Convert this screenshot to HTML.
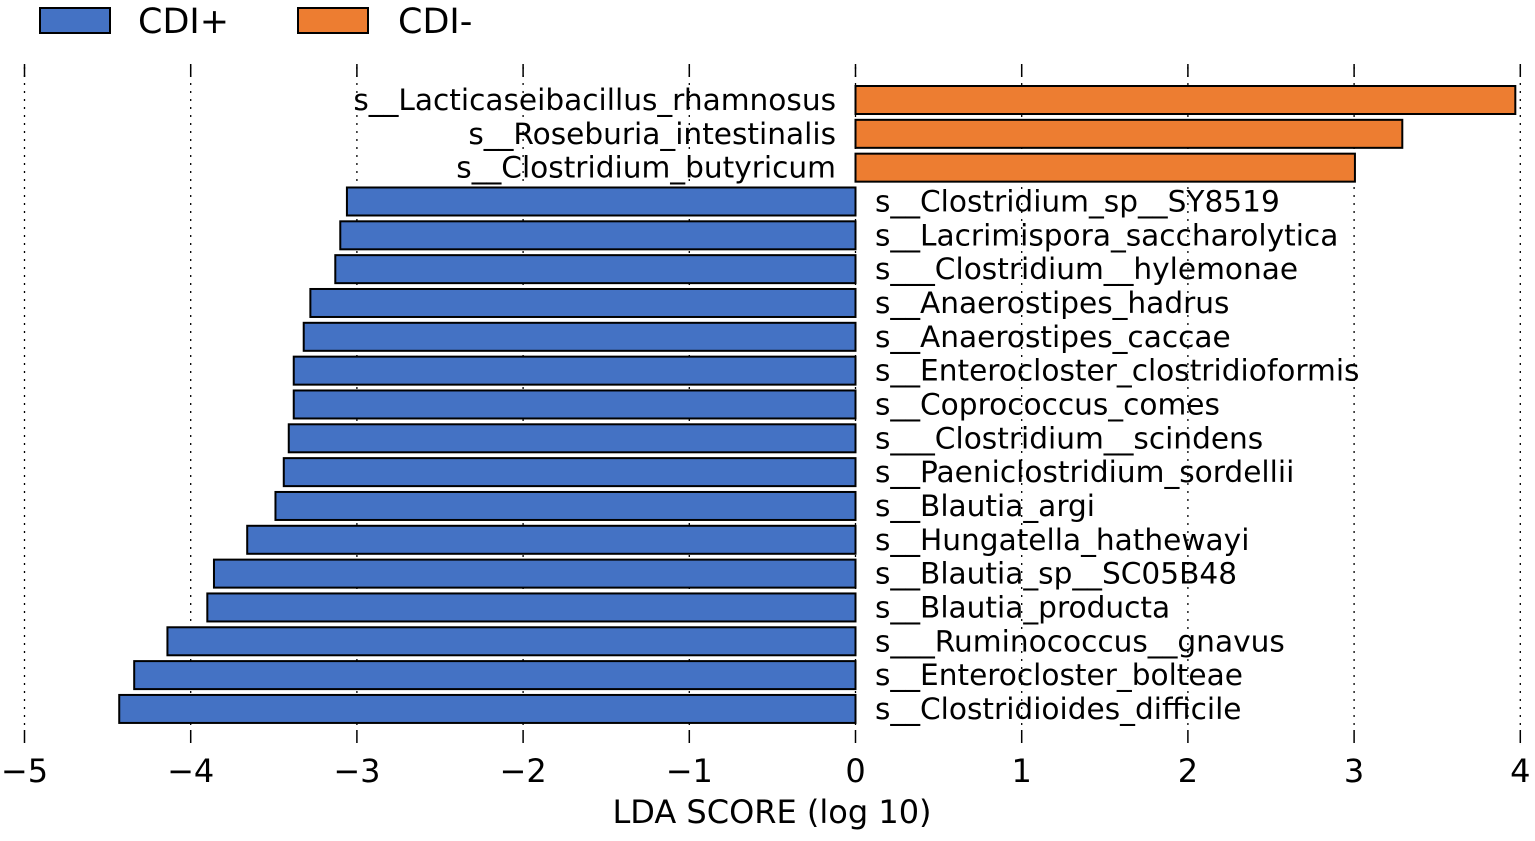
<!DOCTYPE html>
<html><head><meta charset="utf-8"><style>
body{margin:0;background:#fff}
svg text{font-family:"DejaVu Sans","Liberation Sans",sans-serif;fill:#000}
</style></head><body>
<svg id="c" width="1535" height="836" xmlns="http://www.w3.org/2000/svg">
<g>
<rect x="40" y="8" width="70" height="25" fill="#4472c4" stroke="#000" stroke-width="2"/>
<text x="138" y="33" font-size="35">CDI+</text>
<rect x="298" y="8" width="70" height="25" fill="#ed7d31" stroke="#000" stroke-width="2"/>
<text x="398" y="33" font-size="35">CDI-</text>
</g>
<g id="grid"></g><g id="bars"></g><g id="axis"></g>
<text x="772" y="823" font-size="32" text-anchor="middle">LDA SCORE (log 10)</text>
</svg>
<script>
const species=["s__Lacticaseibacillus_rhamnosus","s__Roseburia_intestinalis","s__Clostridium_butyricum","s__Clostridium_sp__SY8519","s__Lacrimispora_saccharolytica","s___Clostridium__hylemonae","s__Anaerostipes_hadrus","s__Anaerostipes_caccae","s__Enterocloster_clostridioformis","s__Coprococcus_comes","s___Clostridium__scindens","s__Paeniclostridium_sordellii","s__Blautia_argi","s__Hungatella_hathewayi","s__Blautia_sp__SC05B48","s__Blautia_producta","s___Ruminococcus__gnavus","s__Enterocloster_bolteae","s__Clostridioides_difficile"];
const ldaScores=[3.97,3.29,3.005,-3.06,-3.10,-3.13,-3.28,-3.32,-3.38,-3.38,-3.41,-3.44,-3.49,-3.66,-3.86,-3.90,-4.14,-4.34,-4.43];
const tickValues=[-5,-4,-3,-2,-1,0,1,2,3,4];
const tickLabels=["\u22125","\u22124","\u22123","\u22122","\u22121","0","1","2","3","4"];
const NS="http://www.w3.org/2000/svg";
const x=v=>855.5+v*166.2;
const y=i=>100+i*33.83;
function mk(t,a,p){const e=document.createElementNS(NS,t);for(const k in a)e.setAttribute(k,a[k]);p.appendChild(e);return e;}
const G=document.getElementById('grid'),B=document.getElementById('bars'),A=document.getElementById('axis');
tickValues.forEach((v,i)=>{
 const g=mk('line',{x1:x(v),x2:x(v),y1:67,y2:730,stroke:'#000','stroke-width':1.3,'stroke-dasharray':'2,6'},G);
 
 
 const t1=mk('line',{x1:x(v),x2:x(v),y1:64,y2:77,stroke:'#000','stroke-width':1.5},A);
 
 
 const t2=mk('line',{x1:x(v),x2:x(v),y1:730,y2:743,stroke:'#000','stroke-width':1.5},A);
 
 
 const tl=mk('text',{x:x(v),y:782,'font-size':32,'text-anchor':'middle'},A);
 tl.textContent=tickLabels[i];
 
 
});
species.forEach((s,i)=>{
 const v=ldaScores[i],pos=v>0;
 const r=mk('rect',{x:Math.min(x(0),x(v)),y:y(i)-14,width:Math.abs(x(v)-x(0)),height:28,fill:pos?'#ed7d31':'#4472c4',stroke:'#000','stroke-width':2},B);
 
 
 const t=mk('text',{x:pos?836:875,y:y(i)+10,'font-size':29.6,'text-anchor':pos?'end':'start'},B);
 t.textContent=s;
 
 
});
</script>
</body></html>
